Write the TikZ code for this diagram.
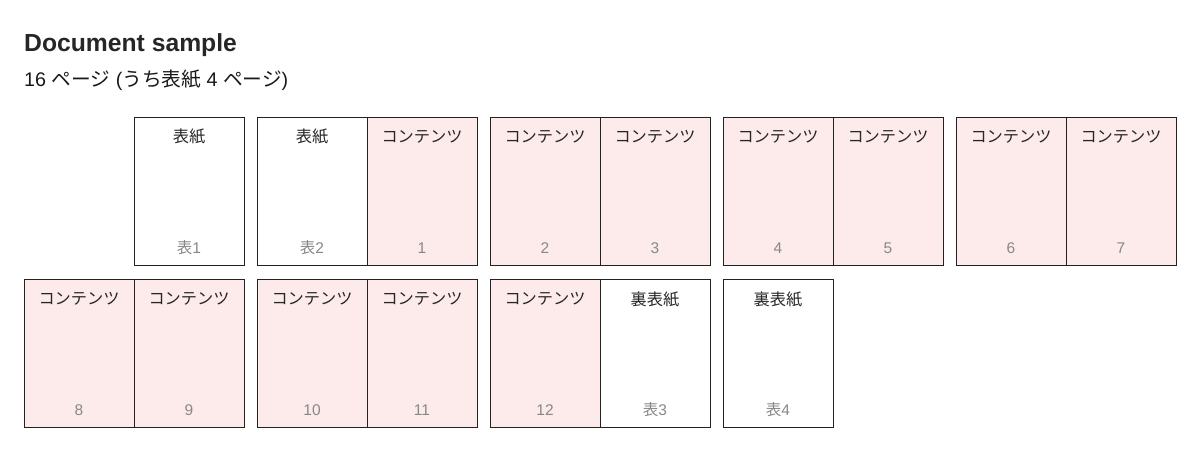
\documentclass[tikz,border=0pt]{standalone}
\usepackage{fontspec}
\setmainfont{Liberation Sans}
\newfontfamily\jp{Noto Sans CJK JP}
\usetikzlibrary{positioning}
\definecolor{page-line}{HTML}{222222}
\definecolor{page-pink}{HTML}{FDEBEB}
\definecolor{num-gray}{HTML}{888888}

\begin{document}
\begin{tikzpicture}[
    x=1pt, y=-1pt,
    node distance=14pt and 13pt,
    cover/.style={draw=page-line, line width=0.9pt, fill=white, minimum width=110pt, minimum height=148pt, inner sep=0pt, outer sep=0pt},
    content/.style={cover, fill=page-pink},
    head/.style={font=\jp\fontsize{16.2}{17}\selectfont, text=black!85, anchor=center, yshift=-20pt},
    num/.style={font=\fontsize{15.5}{16}\selectfont, text=num-gray, anchor=center, yshift=17pt}
]
    \useasboundingbox (0,0) rectangle (1200,453);
    \node[anchor=base west, inner sep=0pt, font=\bfseries\fontsize{24.7}{26}\selectfont, text=black!85] (title) at (24,51) {Document sample};
    \node[anchor=base west, inner sep=0pt, font=\fontsize{19.7}{21}\selectfont, text=black!90] (subtitle) at (24,86) {16 {\jp ページ} ({\jp うち表紙} 4 {\jp ページ})};

    % first row
    \node[cover, label={[head]north:{\jp 表紙}}, label={[num]south:{\jp 表}1}] (h1) at (189,191) {};
    \node[cover, right=of h1, label={[head]north:{\jp 表紙}}, label={[num]south:{\jp 表}2}] (h2) {};
    \node[content, right=0pt of h2, label={[head]north:{\jp コンテンツ}}, label={[num]south:1}] (c1) {};
    \node[content, right=of c1, label={[head]north:{\jp コンテンツ}}, label={[num]south:2}] (c2) {};
    \node[content, right=0pt of c2, label={[head]north:{\jp コンテンツ}}, label={[num]south:3}] (c3) {};
    \node[content, right=of c3, label={[head]north:{\jp コンテンツ}}, label={[num]south:4}] (c4) {};
    \node[content, right=0pt of c4, label={[head]north:{\jp コンテンツ}}, label={[num]south:5}] (c5) {};
    \node[content, right=of c5, label={[head]north:{\jp コンテンツ}}, label={[num]south:6}] (c6) {};
    \node[content, right=0pt of c6, label={[head]north:{\jp コンテンツ}}, label={[num]south:7}] (c7) {};

    % second row
    \node[content, below left=14pt and 0pt of h1, label={[head]north:{\jp コンテンツ}}, label={[num]south:8}] (c8) {};
    \node[content, right=0pt of c8, label={[head]north:{\jp コンテンツ}}, label={[num]south:9}] (c9) {};
    \node[content, right=of c9, label={[head]north:{\jp コンテンツ}}, label={[num]south:10}] (c10) {};
    \node[content, right=0pt of c10, label={[head]north:{\jp コンテンツ}}, label={[num]south:11}] (c11) {};
    \node[content, right=of c11, label={[head]north:{\jp コンテンツ}}, label={[num]south:12}] (c12) {};
    \node[cover, right=0pt of c12, label={[head]north:{\jp 裏表紙}}, label={[num]south:{\jp 表}3}] (h3) {};
    \node[cover, right=of h3, label={[head]north:{\jp 裏表紙}}, label={[num]south:{\jp 表}4}] (h4) {};
\end{tikzpicture}
\end{document}
